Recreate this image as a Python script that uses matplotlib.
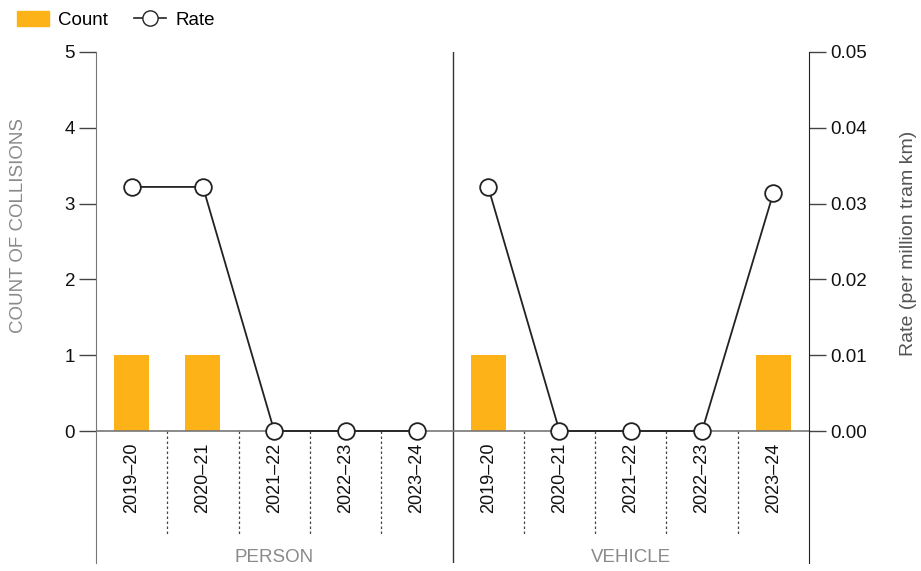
import matplotlib.pyplot as plt
from matplotlib.patches import Patch
from matplotlib.lines import Line2D

plt.rcParams['font.family'] = ['Liberation Sans', 'DejaVu Sans']

groups = ['PERSON', 'VEHICLE']
years = ['2019\u201320', '2020\u201321', '2021\u201322', '2022\u201323', '2023\u201324']
count_person = [1, 1, 0, 0, 0]
count_vehicle = [1, 0, 0, 0, 1]
rate_person = [0.0322, 0.0322, 0.0, 0.0, 0.0]
rate_vehicle = [0.0322, 0.0, 0.0, 0.0, 0.0314]

orange = '#FDB218'
grey = '#8a8a8a'

fig = plt.figure(figsize=(9.21, 5.71), dpi=100)
ax = fig.add_axes([96/921, 1-563/571, (809-96)/921, (563-52)/571])
ax2 = ax.twinx()

n = len(years)
ybot = -(563-431)/75.8
ax.set_xlim(-0.5, 2*n-0.5)
ax.set_ylim(ybot, 5)
ax2.set_ylim(ybot/100, 0.05)

counts = [count_person, count_vehicle]
rates = [rate_person, rate_vehicle]
for g in range(2):
    xs = [g*n + i for i in range(n)]
    ax.bar(xs, counts[g], width=0.49, color=orange, zorder=2)
    ax2.plot(xs, rates[g], color='#222222', lw=1.3, marker='o', ms=12,
             mfc='white', mec='#222222', mew=1.3, zorder=4, clip_on=False)
    for i, x in enumerate(xs):
        ax.text(x, -0.15, years[i], rotation=90, ha='center', va='top', fontsize=13, color='#111111')
        if i < n-1:
            ax.plot([x+0.5, x+0.5], [0, -1.37], ls=(0, (2, 2)), color='#444444', lw=0.9)
    ax.text(g*n + 2, -1.675, groups[g], ha='center', va='center', fontsize=13.5, color=grey)

ax.axvline(n-0.5, color='#333333', lw=1)
ax.axhline(0, color='#777777', lw=1.2, zorder=3)

for a in (ax, ax2):
    a.spines['top'].set_visible(False)
    a.spines['bottom'].set_visible(False)
    a.set_xticks([])
ax.spines['right'].set_visible(False)
ax2.spines['left'].set_visible(False)
ax.spines['left'].set_color('#777777')
ax2.spines['right'].set_color('#222222')

ax.set_yticks(range(6))
ax.tick_params(axis='y', length=12, width=1, color='#444444', labelsize=13.5, labelcolor='#111111', pad=3)
ax2.set_yticks([0, 0.01, 0.02, 0.03, 0.04, 0.05])
ax2.set_yticklabels(['0.00', '0.01', '0.02', '0.03', '0.04', '0.05'])
ax2.tick_params(axis='y', length=12, width=1, color='#444444', labelsize=13.5, labelcolor='#111111', pad=3)

ax.set_ylabel('COUNT OF COLLISIONS', fontsize=13.5, color=grey)
ax.yaxis.set_label_coords(-0.097, (563-225)/511)
ax2.set_ylabel('Rate (per million tram km)', fontsize=14, color='#555555')
ax2.yaxis.set_label_coords(1.127, (563-243)/511)

handles = [Patch(color=orange), Line2D([], [], color='#222222', marker='o', mfc='white', mec='#222222', ms=11, lw=1.2)]
fig.legend(handles, ['Count', 'Rate'], loc='upper left', bbox_to_anchor=(0.0, 1.01), ncol=2,
           frameon=False, fontsize=13.5, handlelength=1.7, handleheight=0.8, handletextpad=0.5, columnspacing=1.4)

fig.savefig('out.png', dpi=100)
